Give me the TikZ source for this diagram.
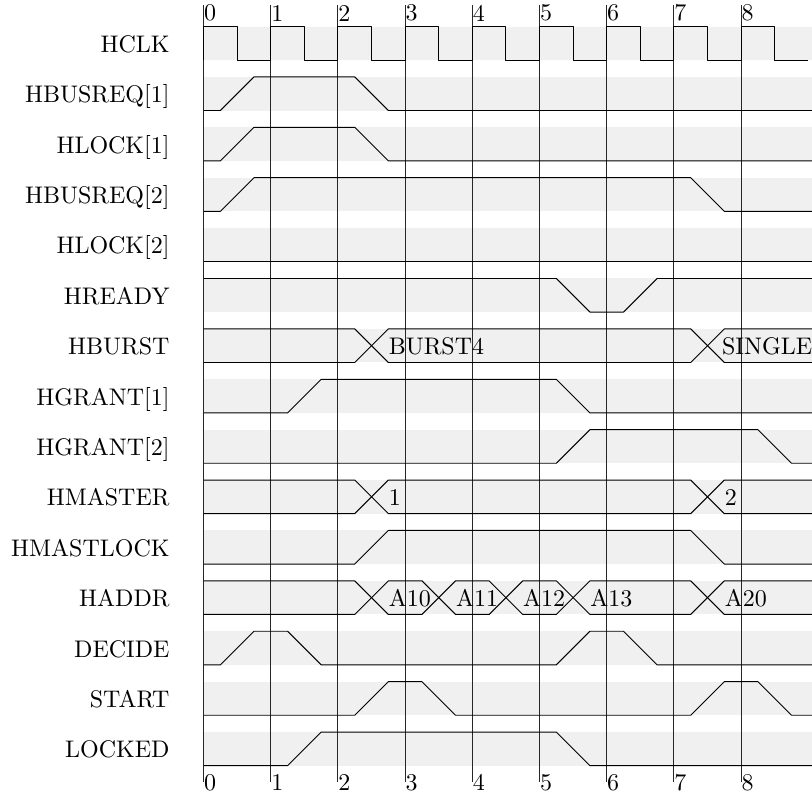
\documentclass[tikz,border=0pt]{standalone}
\begin{document}
\begin{tikzpicture}[x=14pt, y=14pt,
    band/.style={fill=black!6, draw=none},
    sig/.style={line width=0.4pt, line join=round},
    gridline/.style={line width=0.4pt, black!85},
    lbl/.style={anchor=base east, inner sep=0pt},
    val/.style={anchor=base west, inner sep=0pt},
    num/.style={anchor=west, inner sep=0pt}]
  \useasboundingbox (-6.06,-22.02) rectangle (18.11,1.79);

  % Фон строк
  \foreach \r in {0,...,14}
    \fill[band] (0,-1.5*\r) rectangle (18.2,-1.5*\r+1);

  % Сетка и номера тактов
  \foreach \t in {0,...,8} {
    \draw[gridline] (2*\t,1.63) -- (2*\t,-21.5);
    \node[num] (top\t) at (2*\t,1.4) {\t};
    \node[num] (bot\t) at (2*\t,-21.5) {\t};
  }

  % Имена сигналов
  \foreach \n/\name in {0/HCLK, 1/HBUSREQ[1], 2/HLOCK[1], 3/HBUSREQ[2],
      4/HLOCK[2], 5/HREADY, 6/HBURST, 7/HGRANT[1], 8/HGRANT[2],
      9/HMASTER, 10/HMASTLOCK, 11/HADDR, 12/DECIDE, 13/START, 14/LOCKED}
    \node[lbl] (lbl\n) at (-1,-1.5*\n+0.23) {\name};

  % HCLK
  \draw[sig] (0,0) \foreach \k in {0,...,8} { -- (2*\k,1) -- (2*\k+1,1) -- (2*\k+1,0) -- (2*\k+2,0) };

  % HBUSREQ[1], HLOCK[1]
  \draw[sig] (0,-1.5) -- (0.5,-1.5) -- (1.5,-0.5) -- (4.5,-0.5) -- (5.5,-1.5) -- (18.2,-1.5);
  \draw[sig] (0,-3) -- (0.5,-3) -- (1.5,-2) -- (4.5,-2) -- (5.5,-3) -- (18.2,-3);

  % HBUSREQ[2], HLOCK[2]
  \draw[sig] (0,-4.5) -- (0.5,-4.5) -- (1.5,-3.5) -- (14.5,-3.5) -- (15.5,-4.5) -- (18.2,-4.5);
  \draw[sig] (0,-6) -- (18.2,-6);

  % HREADY
  \draw[sig] (0,-6.5) -- (10.5,-6.5) -- (11.5,-7.5) -- (12.5,-7.5) -- (13.5,-6.5) -- (18.2,-6.5);

  % HBURST
  \draw[sig] (0,-8) -- (4.5,-8) -- (5.5,-9) -- (14.5,-9) -- (15.5,-8) -- (18.2,-8);
  \draw[sig] (0,-9) -- (4.5,-9) -- (5.5,-8) -- (14.5,-8) -- (15.5,-9) -- (18.2,-9);
  \node[val] (burst4) at (5.5,-8.77) {BURST4};
  \node[val] (single) at (15.42,-8.77) {SINGLE};

  % HGRANT[1], HGRANT[2]
  \draw[sig] (0,-10.5) -- (2.5,-10.5) -- (3.5,-9.5) -- (10.5,-9.5) -- (11.5,-10.5) -- (18.2,-10.5);
  \draw[sig] (0,-12) -- (10.5,-12) -- (11.5,-11) -- (16.5,-11) -- (17.5,-12) -- (18.2,-12);

  % HMASTER
  \draw[sig] (0,-12.5) -- (4.5,-12.5) -- (5.5,-13.5) -- (14.5,-13.5) -- (15.5,-12.5) -- (18.2,-12.5);
  \draw[sig] (0,-13.5) -- (4.5,-13.5) -- (5.5,-12.5) -- (14.5,-12.5) -- (15.5,-13.5) -- (18.2,-13.5);
  \node[val] (mst1) at (5.5,-13.27) {1};
  \node[val] (mst2) at (15.5,-13.27) {2};

  % HMASTLOCK
  \draw[sig] (0,-15) -- (4.5,-15) -- (5.5,-14) -- (14.5,-14) -- (15.5,-15) -- (18.2,-15);

  % HADDR
  \draw[sig] (0,-15.5) -- (4.5,-15.5) -- (5.5,-16.5) -- (6.5,-16.5) -- (7.5,-15.5) -- (8.5,-15.5)
    -- (9.5,-16.5) -- (10.5,-16.5) -- (11.5,-15.5) -- (14.5,-15.5) -- (15.5,-16.5) -- (18.2,-16.5);
  \draw[sig] (0,-16.5) -- (4.5,-16.5) -- (5.5,-15.5) -- (6.5,-15.5) -- (7.5,-16.5) -- (8.5,-16.5)
    -- (9.5,-15.5) -- (10.5,-15.5) -- (11.5,-16.5) -- (14.5,-16.5) -- (15.5,-15.5) -- (18.2,-15.5);
  \node[val] (a10) at (5.5,-16.27) {A10};
  \node[val] (a11) at (7.5,-16.27) {A11};
  \node[val] (a12) at (9.5,-16.27) {A12};
  \node[val] (a13) at (11.5,-16.27) {A13};
  \node[val] (a20) at (15.5,-16.27) {A20};

  % DECIDE
  \draw[sig] (0,-18) -- (0.5,-18) -- (1.5,-17) -- (2.5,-17) -- (3.5,-18) -- (10.5,-18)
    -- (11.5,-17) -- (12.5,-17) -- (13.5,-18) -- (18.2,-18);

  % START
  \draw[sig] (0,-19.5) -- (4.5,-19.5) -- (5.5,-18.5) -- (6.5,-18.5) -- (7.5,-19.5) -- (14.5,-19.5)
    -- (15.5,-18.5) -- (16.5,-18.5) -- (17.5,-19.5) -- (18.2,-19.5);

  % LOCKED
  \draw[sig] (0,-21) -- (2.5,-21) -- (3.5,-20) -- (10.5,-20) -- (11.5,-21) -- (18.2,-21);
\end{tikzpicture}
\end{document}
